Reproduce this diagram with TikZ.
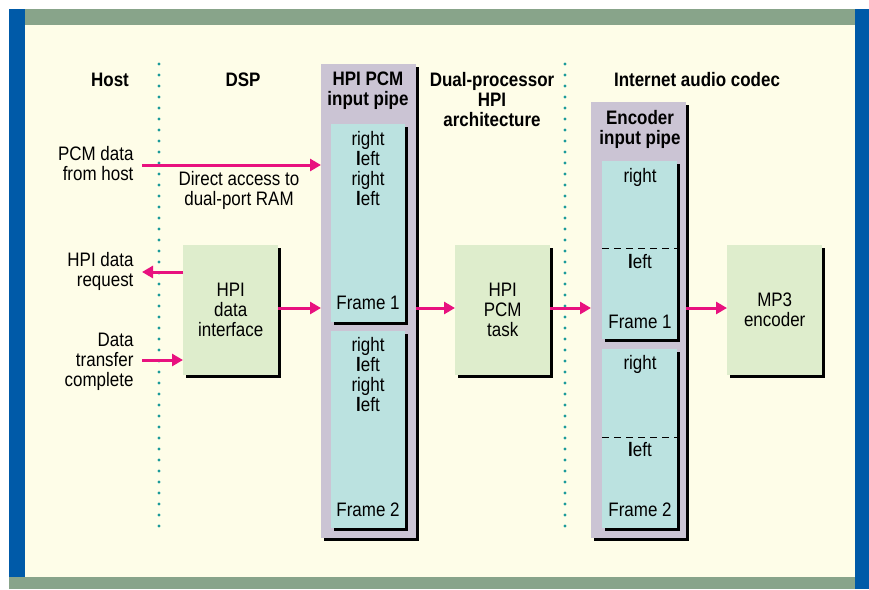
\documentclass[tikz,border=0pt]{standalone}
\usepackage{fontspec}
\setmainfont{Liberation Sans}[FakeStretch=0.87]
\usetikzlibrary{arrows.meta,shadows,positioning,calc}
\definecolor{cream}{RGB}{254,253,232}
\definecolor{edgeblue}{RGB}{0,90,168}
\definecolor{bargreen}{RGB}{136,164,138}
\definecolor{pipegray}{RGB}{203,196,212}
\definecolor{slotcyan}{RGB}{187,226,224}
\definecolor{boxgreen}{RGB}{222,237,204}
\definecolor{flowpink}{RGB}{232,17,127}
\definecolor{septeal}{RGB}{26,154,154}
\newcommand\diagfont{\fontsize{19.5}{20}\selectfont}
\newcommand\lft{{\bfseries l}eft}
\tikzset{
  shadebox/.style={inner sep=0pt, anchor=north west,
    drop shadow={shadow xshift=3pt, shadow yshift=-3pt, fill=black, opacity=1}},
  pipebox/.style={shadebox, fill=pipegray, minimum width=95pt},
  slotbox/.style={shadebox, fill=slotcyan},
  procbox/.style={shadebox, fill=boxgreen, minimum width=95pt, minimum height=130pt, align=center},
  flow/.style={draw=flowpink, line width=3pt, -{Triangle[length=11pt,width=12pt]}},
  sep/.style={draw=septeal, line width=3.2pt, line cap=round, dash pattern=on 0pt off 11pt},
  slotcut/.style={draw=black, line width=0.8pt, dash pattern=on 7pt off 5pt},
  head/.style={font=\diagfont\bfseries, align=center},
  lbl/.style={align=right, anchor=east},
}
\begin{document}
\begin{tikzpicture}[x=1pt, y=-1pt, font=\diagfont]
\useasboundingbox (0,0) rectangle (869,589);
% frame round the picture
\fill[cream] (25,25) rectangle (855,577);
\fill[bargreen] (25,9) rectangle (855,25);
\fill[bargreen] (9,577) rectangle (855,589);
\fill[edgeblue] (9,9) rectangle (25,577);
\fill[edgeblue] (855,9) rectangle (869,589);
% dotted separators
\coordinate (sepAtop) at (159,64); \coordinate (sepAbot) at (159,535);
\coordinate (sepBtop) at (565,64); \coordinate (sepBbot) at (565,535);
\draw[sep] (sepAtop) -- (sepAbot);
\draw[sep] (sepBtop) -- (sepBbot);
% column heads
\node[head] (hhost) at (110,80) {Host};
\node[head] (hdsp) at (243,80) {DSP};
\node[head] (hcodec) at (697,80) {Internet audio codec};
\node[head] (harch) at (492,100) {Dual-processor\\HPI\\architecture};
% pipes
\node[pipebox, minimum height=474pt] (hpipipe) at (321,64) {};
\node[slotbox, minimum width=74pt, minimum height=198pt] (hpiA) at (331,124) {};
\node[slotbox, minimum width=74pt, minimum height=197pt] (hpiB) at (331,331) {};
\node[head] (hpihead) at (368,91) {HPI PCM\\input pipe};
\node[pipebox, minimum height=436pt] (encpipe) at (591,102) {};
\node[slotbox, minimum width=75pt, minimum height=178pt] (encA) at (602,161) {};
\node[slotbox, minimum width=75pt, minimum height=179pt] (encB) at (602,349) {};
\node[head] (enchead) at (640,129) {Encoder\\input pipe};
% samples in the HPI pipe
\foreach \y/\t [count=\i] in {145/right,165/\lft,185/right,205/\lft,309/Frame 1}
  \node[anchor=base] (hpiAt\i) at (368,\y) {\t};
\foreach \y/\t [count=\i] in {351/right,371/\lft,391/right,411/\lft,516/Frame 2}
  \node[anchor=base] (hpiBt\i) at (368,\y) {\t};
% samples in the encoder pipe
\foreach \y/\t [count=\i] in {182/right,268/\lft,328/Frame 1}
  \node[anchor=base] (encAt\i) at (640,\y) {\t};
\foreach \y/\t [count=\i] in {369/right,456/\lft,516/Frame 2}
  \node[anchor=base] (encBt\i) at (640,\y) {\t};
\coordinate (cutA) at (0,248); \coordinate (cutB) at (0,437);
\draw[slotcut] (encA.west |- cutA) -- (encA.east |- cutA);
\draw[slotcut] (encB.west |- cutB) -- (encB.east |- cutB);
% tasks
\node[procbox] (dif) at (183,245) {HPI\\data\\interface};
\node[procbox] (task) at (455,245) {HPI\\PCM\\task};
\node[procbox] (mp3) at (727,245) {MP3\\encoder};
% host side labels
\node[lbl] (lpcm) at (137,164) {PCM data\\from host};
\node[lbl] (lreq) at (137,271) {HPI data\\request};
\node[lbl] (ldone) at (137,362) {Data\\transfer\\complete};
\node[align=center] (ldirect) at (239,190) {Direct access to\\dual-port RAM};
% arrows
\coordinate (hostin) at (142,165);
\coordinate (hostreq) at (142,272);
\coordinate (hostdone) at (142,360);
\coordinate (flowrow) at (0,308);
\draw[flow] (hostin) -- (hostin -| hpipipe.west);
\draw[flow] (dif.west |- hostreq) -- (hostreq);
\draw[flow] (hostdone) -- (hostdone -| dif.west);
\draw[flow] (dif.east |- flowrow) -- (hpipipe.west |- flowrow);
\draw[flow] (hpipipe.east |- flowrow) -- (task.west |- flowrow);
\draw[flow] (task.east |- flowrow) -- (encpipe.west |- flowrow);
\draw[flow] (encpipe.east |- flowrow) -- (mp3.west |- flowrow);
\end{tikzpicture}
\end{document}
